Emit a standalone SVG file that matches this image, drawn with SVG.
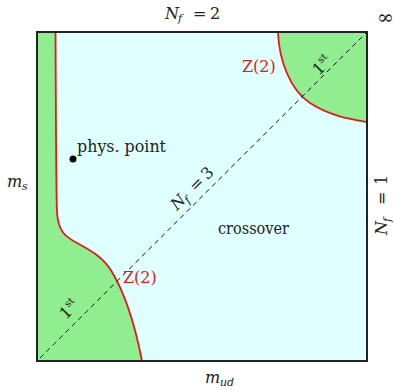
<svg xmlns="http://www.w3.org/2000/svg" width="395" height="390" viewBox="0 0 395 390">
<style>
.lbl{font-family:'DejaVu Serif',serif;font-size:16px;fill:#222}
.it{font-style:italic}
.sub{font-style:italic;font-size:11px}
.sup{font-size:10px}
.red{fill:#e41a1a}
.green{fill:#90ee90;stroke:none}
.crit{fill:none;stroke:#e41a1a;stroke-width:1.8}
.diag{fill:none;stroke:#111;stroke-width:1;stroke-dasharray:5 4}
</style>
<g id="background">
<rect x="37" y="32" width="330" height="329" fill="#e0ffff"/>
</g>
<g id="region-first-order-light">
<path class="green" d="M37,32 L55.5,32 C56,120 56,190 57,212 C58,232 66,237 77,243 C92,251 104,258 112,272 C124,292 134,320 142,361 L37,361 Z"/>
</g>
<g id="region-first-order-heavy">
<path class="green" d="M278,32 C279,60 290,90 310,103 C330,116 350,119 367,122 L367,32 Z"/>
</g>
<g id="connectors">
<path class="crit" d="M55.5,32 C56,120 56,190 57,212 C58,232 66,237 77,243 C92,251 104,258 112,272 C124,292 134,320 142,361"/>
<path class="crit" d="M278,32 C279,60 290,90 310,103 C330,116 350,119 367,122"/>
<line class="diag" x1="40" y1="358" x2="367" y2="32"/>
</g>
<g id="frame">
<rect x="37" y="32" width="330" height="329" fill="none" stroke="#222" stroke-width="2"/>
</g>
<g id="phys-point">
<circle cx="73" cy="159" r="3.5" fill="#000"/>
<text class="lbl" x="77" y="152" textLength="89" lengthAdjust="spacingAndGlyphs">phys. point</text>
</g>
<g id="label-crossover">
<text class="lbl" x="218" y="234" textLength="71" lengthAdjust="spacingAndGlyphs">crossover</text>
</g>
<g id="label-z2-upper">
<text class="lbl red" x="242" y="72">Z(2)</text>
</g>
<g id="label-z2-lower">
<text class="lbl red" x="123" y="283">Z(2)</text>
</g>
<g id="label-nf2">
<text class="lbl it" x="165" y="18.5">N</text>
<text class="lbl sub" x="178" y="22">f</text>
<text class="lbl" x="193" y="18.5">=</text>
<text class="lbl" x="210" y="18.5">2</text>
</g>
<g id="label-infinity">
<text class="lbl" x="377" y="24" style="font-size:20px">∞</text>
</g>
<g id="label-nf1" transform="translate(387,235) rotate(-90)">
<text class="lbl it" x="0" y="0">N</text>
<text class="lbl sub" x="13" y="3.5">f</text>
<text class="lbl" x="30" y="0">=</text>
<text class="lbl" x="50" y="0">1</text>
</g>
<g id="label-nf3" transform="translate(177,211) rotate(-45)">
<text class="lbl it" x="0" y="0">N</text>
<text class="lbl sub" x="13" y="3.5">f</text>
<text class="lbl" x="26" y="0">=</text>
<text class="lbl" x="43" y="0">3</text>
</g>
<g id="label-ms">
<text class="lbl it" x="7" y="187">m</text>
<text class="lbl sub" x="22" y="190">s</text>
</g>
<g id="label-mud">
<text class="lbl it" x="205" y="383">m</text>
<text class="lbl sub" x="220" y="386">ud</text>
</g>
<g id="label-1st-lower" transform="translate(66,320) rotate(-45)">
<text class="lbl" x="0" y="0">1<tspan class="sup" dy="-7">st</tspan></text>
</g>
<g id="label-1st-upper" transform="translate(319,76) rotate(-45)">
<text class="lbl" x="0" y="0">1<tspan class="sup" dy="-7">st</tspan></text>
</g>
</svg>
